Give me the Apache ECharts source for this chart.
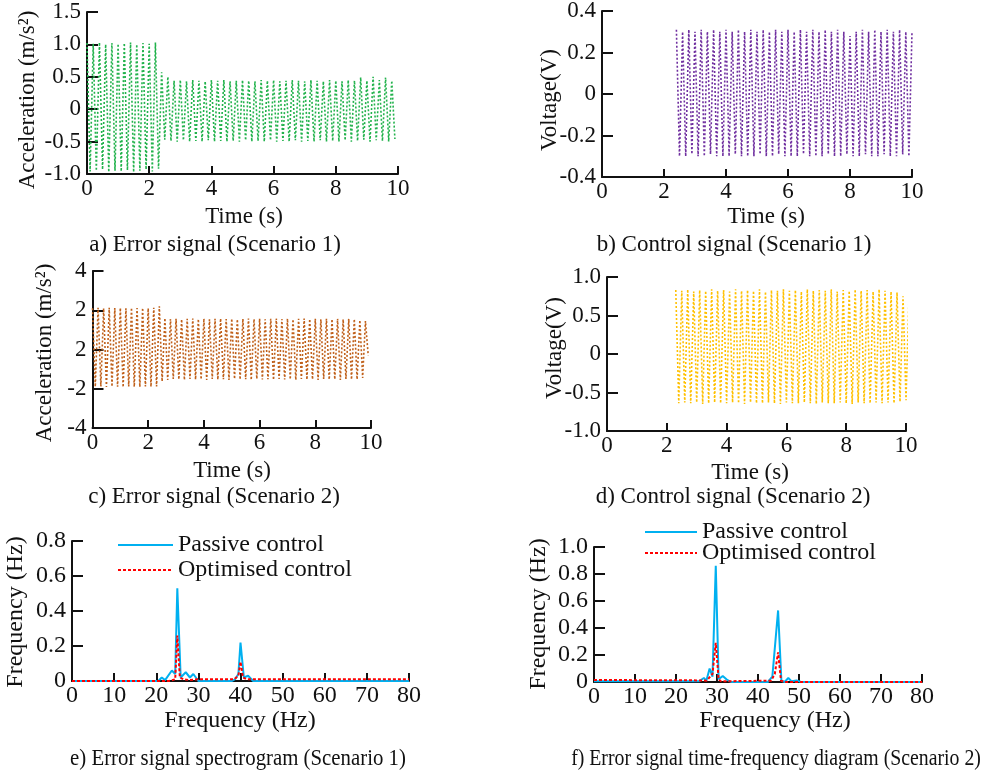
<!DOCTYPE html>
<html>
<head>
<meta charset="utf-8">
<script src="https://cdn.jsdelivr.net/npm/echarts@6/dist/echarts.min.js"></script>
<style>
  html, body { margin: 0; padding: 0; background: #fff; }
  #chart { width: 984px; height: 773px; }
</style>
</head>
<body>
<div id="chart"></div>
<script>
// ---- time-domain records: first sample time (s), sample spacing (s), peak/trough values ----
const errS1Start = 0, errS1Step = 0.1;
const errS1 = [
  1.02,-0.96,1.01,-0.95,1.03,-0.93,1.00,-0.97,1.02,-0.95,
  1.01,-0.96,1.02,-0.94,1.03,-0.97,1.00,-0.95,1.02,-0.93,
  1.01,-0.96,1.03,-0.92,0.57,-0.47,0.50,-0.49,0.44,-0.50,
  0.45,-0.48,0.43,-0.50,0.45,-0.49,0.44,-0.50,0.43,-0.48,
  0.45,-0.50,0.44,-0.49,0.45,-0.50,0.43,-0.49,0.44,-0.50,
  0.45,-0.48,0.44,-0.50,0.43,-0.49,0.45,-0.50,0.44,-0.48,
  0.45,-0.50,0.43,-0.49,0.44,-0.50,0.45,-0.48,0.44,-0.50,
  0.43,-0.49,0.45,-0.50,0.44,-0.48,0.43,-0.50,0.45,-0.49,
  0.44,-0.50,0.43,-0.48,0.45,-0.50,0.44,-0.49,0.49,-0.47,
  0.44,-0.50,0.50,-0.48,0.45,-0.49,0.49,-0.50,0.44,-0.46
];

const ctlS1Start = 2.4, ctlS1Step = 0.1;
const ctlS1 = [
  0.31,-0.30,0.30,-0.30,0.31,-0.29,0.30,-0.30,0.31,-0.30,
  0.30,-0.29,0.31,-0.30,0.30,-0.30,0.31,-0.30,0.30,-0.29,
  0.31,-0.30,0.30,-0.30,0.31,-0.30,0.30,-0.29,0.31,-0.30,
  0.30,-0.30,0.31,-0.29,0.30,-0.30,0.31,-0.30,0.30,-0.30,
  0.31,-0.29,0.30,-0.30,0.31,-0.30,0.30,-0.30,0.31,-0.29,
  0.30,-0.30,0.31,-0.30,0.30,-0.29,0.28,-0.30,0.30,-0.30,
  0.31,-0.29,0.30,-0.30,0.31,-0.30,0.30,-0.29,0.31,-0.30,
  0.30,-0.30,0.31,-0.29,0.30,-0.30,0.30
];

const errS2Start = 0, errS2Step = 0.1;
const errS2 = [
  2.10,-1.90,2.12,-1.88,2.10,-1.91,2.13,-1.89,2.11,-1.90,
  2.12,-1.92,2.10,-1.89,2.13,-1.90,2.11,-1.91,2.12,-1.88,
  2.10,-1.90,2.13,-1.89,2.20,-1.62,1.60,-1.55,1.55,-1.50,
  1.57,-1.52,1.54,-1.55,1.56,-1.50,1.58,-1.53,1.55,-1.52,
  1.57,-1.55,1.54,-1.50,1.56,-1.53,1.58,-1.52,1.55,-1.55,
  1.57,-1.50,1.54,-1.53,1.56,-1.52,1.58,-1.55,1.55,-1.50,
  1.57,-1.53,1.54,-1.52,1.56,-1.55,1.58,-1.50,1.55,-1.53,
  1.57,-1.52,1.54,-1.55,1.56,-1.50,1.58,-1.53,1.55,-1.52,
  1.57,-1.55,1.54,-1.50,1.56,-1.53,1.55,-1.52,1.57,-1.55,
  1.54,-1.50,1.56,-1.53,1.55,-1.52,1.50,-1.45,1.45,-0.30
];

const ctlS2Start = 2.3, ctlS2Step = 0.1;
const ctlS2 = [
  0.83,-0.64,0.82,-0.63,0.84,-0.64,0.81,-0.63,0.83,-0.65,
  0.82,-0.64,0.84,-0.63,0.82,-0.64,0.83,-0.64,0.81,-0.63,
  0.84,-0.64,0.82,-0.65,0.83,-0.63,0.82,-0.64,0.84,-0.64,
  0.81,-0.63,0.83,-0.64,0.82,-0.65,0.84,-0.63,0.82,-0.64,
  0.83,-0.64,0.81,-0.63,0.84,-0.64,0.82,-0.65,0.83,-0.63,
  0.82,-0.64,0.84,-0.64,0.81,-0.63,0.83,-0.64,0.82,-0.65,
  0.84,-0.63,0.82,-0.64,0.83,-0.64,0.81,-0.63,0.84,-0.64,
  0.82,-0.63,0.81,-0.64,0.80,-0.62,0.75,-0.60,0.74
];

// ---- spectra: frequency (Hz) and magnitude ----
const specS1PassiveHz  = [0, 20, 20.5, 21.3, 22.1, 23.7, 24.5, 25.0, 25.8, 27.0, 28.0, 28.8, 30.0, 38.0, 38.7, 39.5, 40.0, 40.8, 41.8, 43.0, 80];
const specS1PassiveAmp = [0, 0, 0, 0.02, 0.005, 0.06, 0.04, 0.53, 0.02, 0.05, 0.02, 0.04, 0, 0, 0.01, 0.04, 0.22, 0.02, 0.03, 0, 0];
const specS1OptHz  = [0, 23, 24.5, 25.0, 25.6, 26.5, 28, 30, 38.5, 39.5, 40.0, 40.6, 41.5, 80];
const specS1OptAmp = [0, 0, 0.01, 0.26, 0.02, 0.01, 0.005, 0.01, 0.01, 0.03, 0.11, 0.02, 0.01, 0.01];

const specS2PassiveHz  = [0, 25, 25.6, 26.8, 27.4, 28.2, 28.9, 29.7, 30.4, 31.4, 32.3, 33.4, 42.4, 43.5, 44.9, 45.7, 46.5, 47.4, 48.2, 49.4, 50.5, 80];
const specS2PassiveAmp = [0.005, 0.005, 0.005, 0.03, 0.01, 0.10, 0.04, 0.86, 0.02, 0.045, 0.02, 0, 0, 0.04, 0.53, 0.01, 0, 0.03, 0.005, 0.012, 0, 0];
const specS2OptHz  = [0, 25, 27.5, 28.9, 29.7, 30.4, 31, 43.2, 44.1, 44.9, 45.6, 46.5, 80];
const specS2OptAmp = [0.015, 0.012, 0.01, 0.06, 0.29, 0.02, 0.005, 0.01, 0.06, 0.22, 0.01, 0, 0];

// ---- tick labels ----
const timeTicks = ['0', '2', '4', '6', '8', '10'];
const freqTicks = ['0', '10', '20', '30', '40', '50', '60', '70', '80'];
const yTicksA = ['-1.0', '-0.5', '0', '0.5', '1.0', '1.5'];
const yTicksB = ['-0.4', '-0.2', '0', '0.2', '0.4'];
const yTicksC = ['-4', '-2', '2', '2', '4'];
const yTicksD = ['-1.0', '-0.5', '0', '0.5', '1.0'];
const yTicksE = ['0', '0.2', '0.4', '0.6', '0.8'];
const yTicksF = ['0', '0.2', '0.4', '0.6', '0.8', '1.0'];

const legendNames = ['Passive control', 'Optimised control'];

// ---- styling ----
const FONT_FAMILY = '"Liberation Serif", "Times New Roman", serif';
const FS_TIME = 23;   // time-domain panels
const FS_FREQ = 24;   // spectrum panels
const INK = '#111';
const C_GREEN = '#22b24c', C_PURPLE = '#7030a0', C_BROWN = '#c0601a', C_GOLD = '#ffc000';
const C_BLUE = '#00b0f0', C_RED = '#ff0000';

function sampled(start, step, values) {
  return values.map((v, i) => [+(start + i * step).toFixed(3), v]);
}
function zipXY(xs, ys) {
  return xs.map((x, i) => [x, ys[i]]);
}

const grids = [
  { left: 87,  top: 12,  width: 311, height: 162 },    // a
  { left: 602, top: 11,  width: 310, height: 166 },    // b
  { left: 92.5, top: 271, width: 278.5, height: 157 }, // c
  { left: 607, top: 277, width: 299, height: 154 },    // d
  { left: 72,  top: 541, width: 337, height: 140 },    // e
  { left: 594, top: 547, width: 328, height: 135 }     // f
].map(g => Object.assign({ outerBoundsMode: 'none', containLabel: false }, g));

function labelFrom(list, min, interval) {
  return v => {
    const k = Math.round((v - min) / interval);
    return list[k] !== undefined ? list[k] : '';
  };
}

function xAxis(gridIndex, min, max, interval, ticks, fs) {
  return {
    type: 'value', gridIndex, min, max, interval,
    axisLine: { show: true, onZero: false, lineStyle: { color: INK, width: 2 } },
    axisTick: { show: true, inside: true, length: 8, lineStyle: { color: INK, width: 2 } },
    splitLine: { show: false },
    axisLabel: {
      margin: 3, color: INK, fontFamily: FONT_FAMILY, fontSize: fs,
      formatter: labelFrom(ticks, min, interval)
    }
  };
}
function yAxis(gridIndex, min, max, interval, ticks, fs) {
  return {
    type: 'value', gridIndex, min, max, interval,
    axisLine: { show: true, onZero: false, lineStyle: { color: INK, width: 2 } },
    axisTick: { show: true, inside: true, length: 11, lineStyle: { color: INK, width: 2 } },
    splitLine: { show: false },
    axisLabel: {
      margin: 6, color: INK, fontFamily: FONT_FAMILY, fontSize: fs,
      formatter: labelFrom(ticks, min, interval)
    }
  };
}

function timeSeries(idx, data, color) {
  return {
    type: 'line', xAxisIndex: idx, yAxisIndex: idx, data,
    symbol: 'none', silent: true,
    lineStyle: { color, width: 1.6, type: [2, 2] }
  };
}

// free text; sx narrows the glyphs horizontally for the condensed captions
function text(str, x, y, fs, rotate, sx) {
  return {
    type: 'text', x, y, rotation: rotate ? Math.PI / 2 : 0, silent: true,
    scaleX: sx || 1,
    style: {
      text: str, fill: INK, font: fs + 'px ' + FONT_FAMILY,
      align: 'center', verticalAlign: 'middle'
    }
  };
}

function legendAt(left, top, itemWidth, itemGap) {
  return {
    left, top, itemWidth, itemGap, padding: 0,
    orient: 'vertical', itemHeight: 14,
    data: legendNames, selectedMode: false,
    itemStyle: { color: 'rgba(0,0,0,0)', borderWidth: 0, opacity: 0 },
    textStyle: { color: INK, fontFamily: FONT_FAMILY, fontSize: FS_FREQ }
  };
}

const option = {
  animation: false,
  backgroundColor: '#fff',
  grid: grids,
  xAxis: [
    xAxis(0, 0, 10, 2, timeTicks, FS_TIME),
    xAxis(1, 0, 10, 2, timeTicks, FS_TIME),
    xAxis(2, 0, 10, 2, timeTicks, FS_TIME),
    xAxis(3, 0, 10, 2, timeTicks, FS_TIME),
    xAxis(4, 0, 80, 10, freqTicks, FS_FREQ),
    xAxis(5, 0, 80, 10, freqTicks, FS_FREQ)
  ],
  yAxis: [
    yAxis(0, -1, 1.5, 0.5, yTicksA, FS_TIME),
    yAxis(1, -0.4, 0.4, 0.2, yTicksB, FS_TIME),
    yAxis(2, -4, 4, 2, yTicksC, FS_TIME),
    yAxis(3, -1, 1, 0.5, yTicksD, FS_TIME),
    yAxis(4, 0, 0.8, 0.2, yTicksE, FS_FREQ),
    yAxis(5, 0, 1, 0.2, yTicksF, FS_FREQ)
  ],
  legend: [
    legendAt(117, 533, 55, 1),
    legendAt(644, 520, 52, -3)
  ],
  series: [
    timeSeries(0, sampled(errS1Start, errS1Step, errS1), C_GREEN),
    timeSeries(1, sampled(ctlS1Start, ctlS1Step, ctlS1), C_PURPLE),
    timeSeries(2, sampled(errS2Start, errS2Step, errS2), C_BROWN),
    timeSeries(3, sampled(ctlS2Start, ctlS2Step, ctlS2), C_GOLD),
    {
      name: legendNames[0], type: 'line', xAxisIndex: 4, yAxisIndex: 4, symbol: 'none',
      data: zipXY(specS1PassiveHz, specS1PassiveAmp),
      lineStyle: { color: C_BLUE, width: 2 }, itemStyle: { color: C_BLUE }
    },
    {
      name: legendNames[1], type: 'line', xAxisIndex: 4, yAxisIndex: 4, symbol: 'none',
      data: zipXY(specS1OptHz, specS1OptAmp),
      lineStyle: { color: C_RED, width: 2, type: [3, 2] }, itemStyle: { color: C_RED }
    },
    {
      name: legendNames[0], type: 'line', xAxisIndex: 5, yAxisIndex: 5, symbol: 'none',
      data: zipXY(specS2PassiveHz, specS2PassiveAmp),
      lineStyle: { color: C_BLUE, width: 2 }, itemStyle: { color: C_BLUE }
    },
    {
      name: legendNames[1], type: 'line', xAxisIndex: 5, yAxisIndex: 5, symbol: 'none',
      data: zipXY(specS2OptHz, specS2OptAmp),
      lineStyle: { color: C_RED, width: 2, type: [3, 2] }, itemStyle: { color: C_RED }
    }
  ],
  graphic: [
    // panel a
    text('Acceleration (m/s\u00b2)', 28, 100, FS_TIME, true),
    text('Time (s)', 244, 217, FS_TIME),
    text('a) Error signal (Scenario 1)', 215, 245, FS_TIME),
    // panel b
    text('Voltage(V)', 550, 100, FS_TIME, true),
    text('Time (s)', 766, 217, FS_TIME),
    text('b) Control signal (Scenario 1)', 734, 245, FS_TIME),
    // panel c
    text('Acceleration (m/s\u00b2)', 45, 353, FS_TIME, true),
    text('Time (s)', 232, 471, FS_TIME),
    text('c) Error signal (Scenario 2)', 214, 497, FS_TIME),
    // panel d
    text('Voltage(V)', 555, 348, FS_TIME, true),
    text('Time (s)', 750, 473, FS_TIME),
    text('d) Control signal (Scenario 2)', 733, 497, FS_TIME),
    // panel e
    text('Frequency (Hz)', 16, 612, FS_FREQ, true),
    text('Frequency (Hz)', 240, 721, FS_FREQ),
    text('e) Error signal spectrogram (Scenario 1)', 238, 759, 23, false, 0.905),
    // panel f
    text('Frequency (Hz)', 539, 614, FS_FREQ, true),
    text('Frequency (Hz)', 775, 721, FS_FREQ),
    text('f) Error signal time-frequency diagram (Scenario 2)', 776, 759, 23, false, 0.86)
  ]
};

const chart = echarts.init(document.getElementById('chart'), null, { renderer: 'canvas' });
chart.setOption(option);
</script>
</body>
</html>
